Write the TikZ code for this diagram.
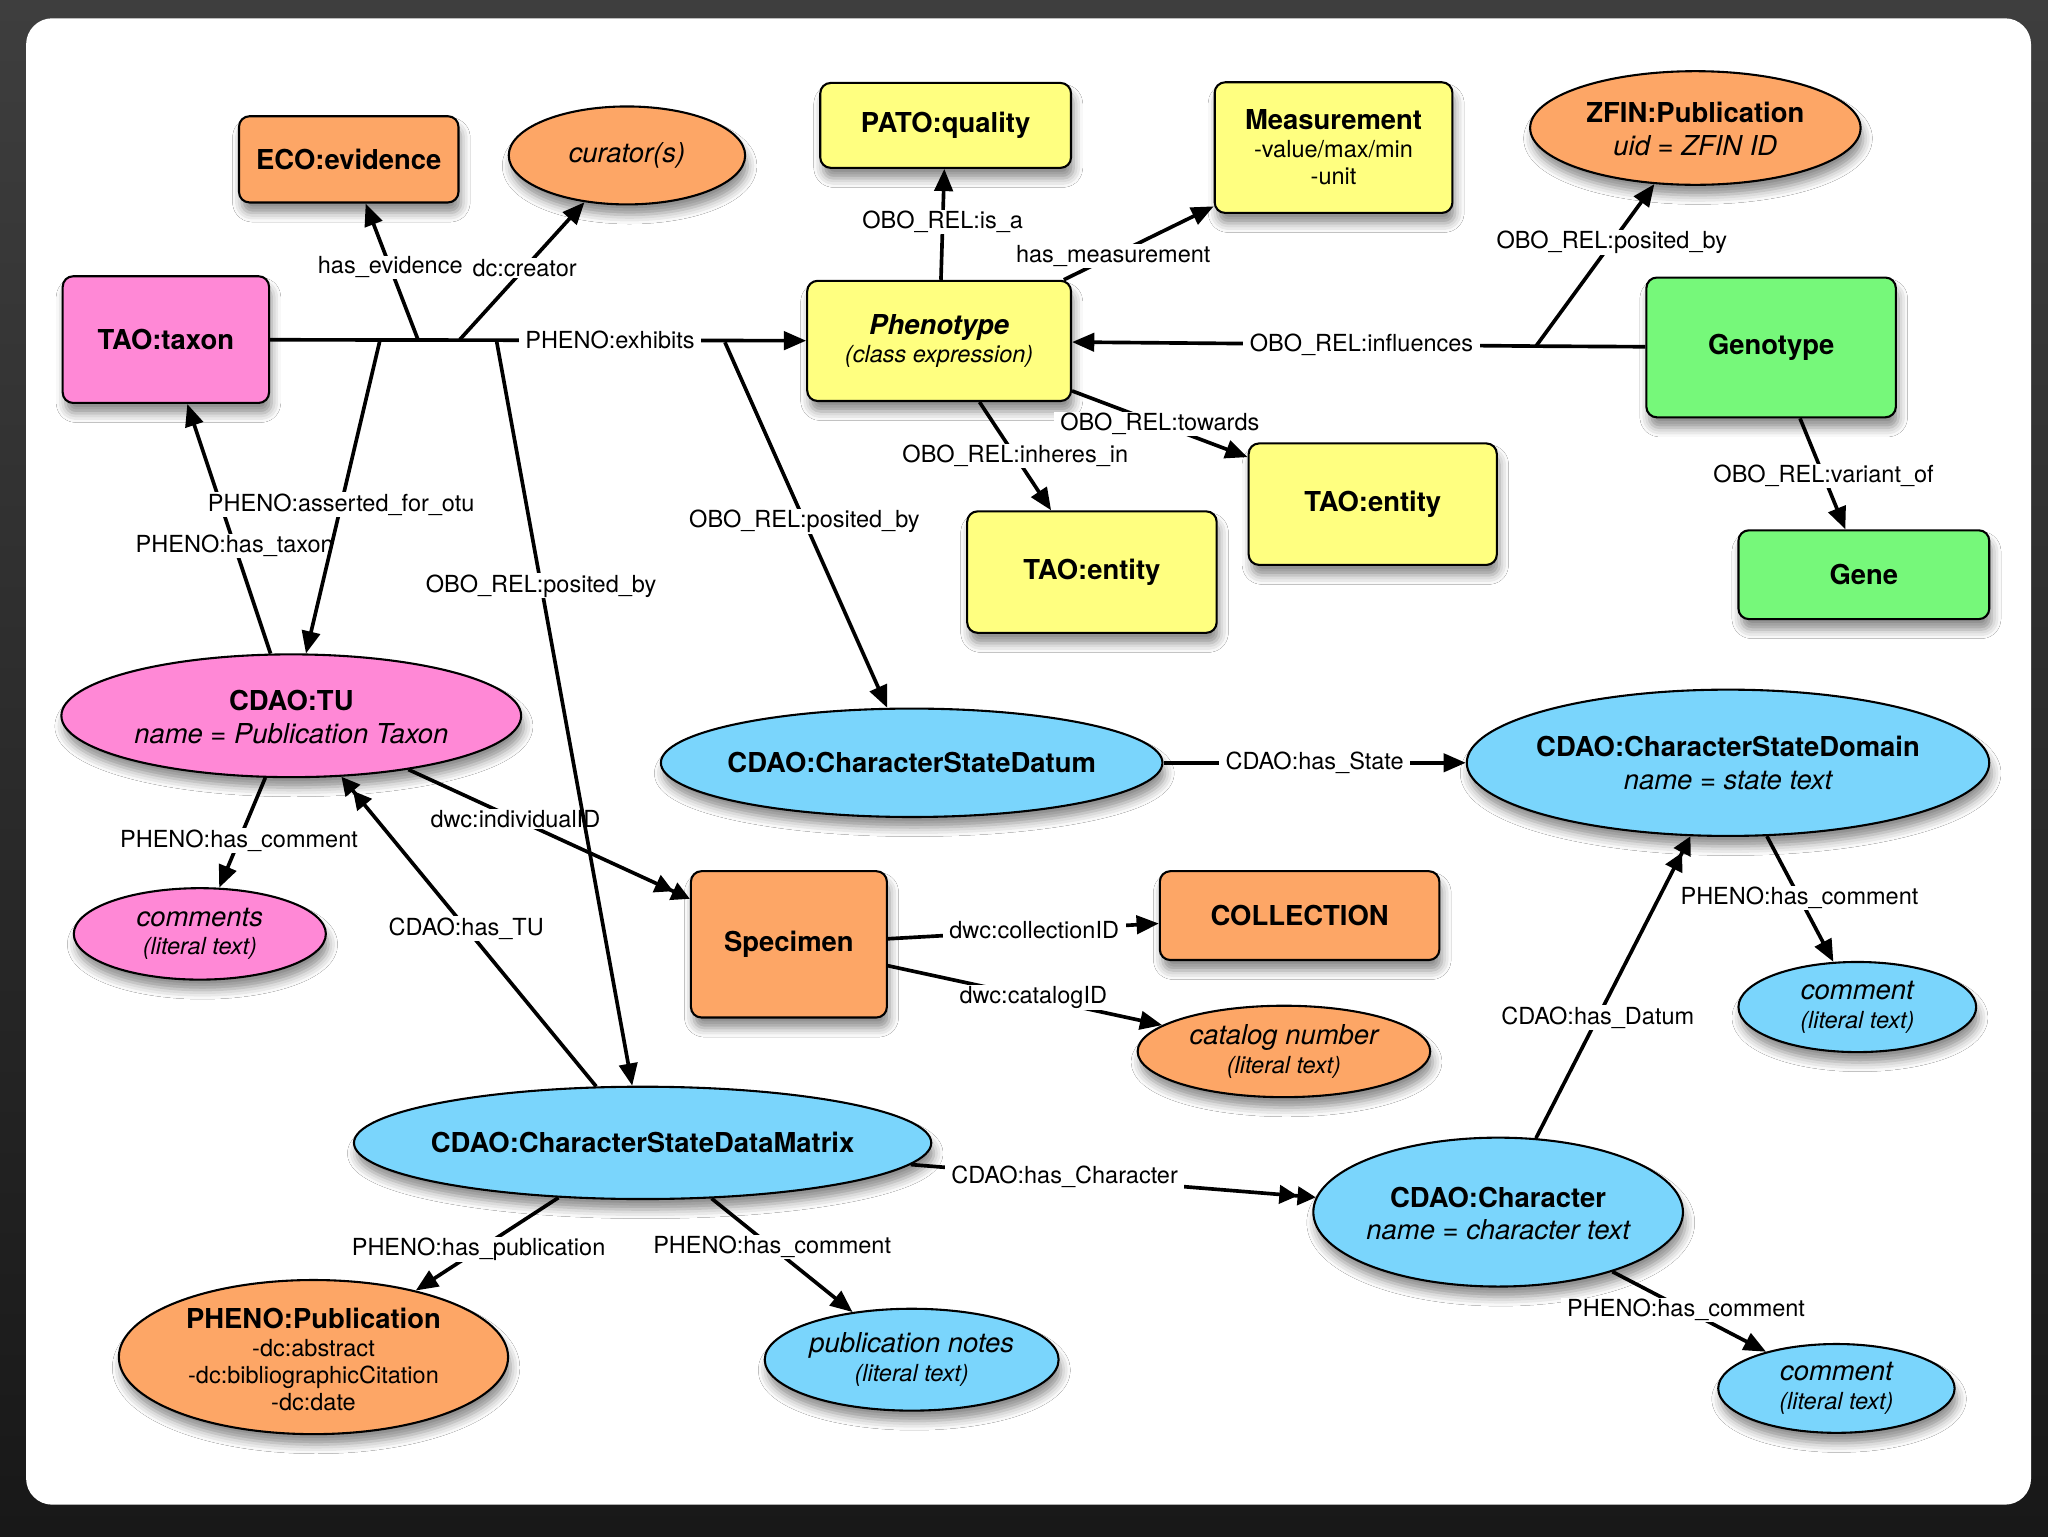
\documentclass[tikz,border=0pt]{standalone}
\usepackage{fontspec}
\setmainfont{TeX Gyre Heros}
\usetikzlibrary{shapes.geometric,arrows.meta,shadows.blur}
\definecolor{corange}{RGB}{253,166,102}
\definecolor{cpink}{RGB}{255,136,214}
\definecolor{cyellow}{RGB}{255,255,128}
\definecolor{cgreen}{RGB}{118,248,122}
\definecolor{cblue}{RGB}{122,213,252}
\definecolor{bgtop}{RGB}{62,62,62}
\definecolor{bgbot}{RGB}{24,24,24}
\newcommand\xtitle{\fontsize{21}{25}\selectfont\bfseries}
\newcommand\xital{\fontsize{21}{25}\selectfont\itshape}
\newcommand\xsmall{\fontsize{18}{21}\selectfont}
\newcommand\xsmit{\fontsize{18}{21}\selectfont\itshape}
\begin{document}
\begin{tikzpicture}[x=1pt,y=-1pt,
  shad/.style={blur shadow={shadow xshift=2pt,shadow yshift=-8pt,shadow blur radius=7pt,shadow opacity=45}},
  box/.style={draw=black,line width=1.6pt,rounded corners=8pt,inner sep=0pt,align=center,shad,font=\xsmall},
  ell/.style={ellipse,draw=black,line width=1.6pt,inner sep=0pt,shad},
  txt/.style={align=center,inner sep=0pt,font=\xsmall},
  txtb/.style={align=center,inner sep=0pt,font=\fontsize{21}{25}\selectfont},
  lbl/.style={fill=white,inner xsep=5pt,inner ysep=1pt,font=\xsmall},
  plain/.style={line width=2.8pt},
  arr/.style={line width=2.8pt,-{Triangle[length=17pt,width=14pt]}},
  darr/.style={line width=2.8pt,-{Triangle[length=14pt,width=14pt]Triangle[length=14pt,width=14pt]}}
]
\useasboundingbox (0,0) rectangle (1568,1176);
\shade[top color=bgtop,bottom color=bgbot] (0,0) rectangle (1568,1176);
\fill[white,rounded corners=20pt] (20,14) rectangle (1555,1152);

% ---------- rectangles ----------
\node[box,fill=corange,minimum width=168pt,minimum height=66pt] (eco) at (267,122) {\xtitle ECO:evidence};
\node[box,fill=cpink,minimum width=158pt,minimum height=97pt] (taxon) at (127,260) {\xtitle TAO:taxon};
\node[box,fill=cyellow,minimum width=192pt,minimum height=65pt] (pato) at (724,96) {\xtitle PATO:quality};
\node[box,fill=cyellow,minimum width=182pt,minimum height=100pt] (meas) at (1021,113) {{\xtitle Measurement}\\-value/max/min\\-unit};
\node[box,fill=cyellow,minimum width=202pt,minimum height=92pt] (pheno) at (719,261) {{\xtitle\itshape Phenotype}\\[1pt]{\xsmit (class expression)}};
\node[box,fill=cgreen,minimum width=191pt,minimum height=107pt] (geno) at (1356,266) {\xtitle Genotype};
\node[box,fill=cyellow,minimum width=190pt,minimum height=93pt] (entR) at (1051,386) {\xtitle TAO:entity};
\node[box,fill=cyellow,minimum width=191pt,minimum height=93pt] (entL) at (836,438) {\xtitle TAO:entity};
\node[box,fill=cgreen,minimum width=192pt,minimum height=68pt] (gene) at (1427,440) {\xtitle Gene};
\node[box,fill=corange,minimum width=150pt,minimum height=112pt] (spec) at (604,723) {\xtitle Specimen};
\node[box,fill=corange,minimum width=214pt,minimum height=68pt] (coll) at (995,701) {\xtitle COLLECTION};

% ---------- ellipses ----------
\node[ell,fill=corange,minimum width=181pt,minimum height=75pt] (cur) at (480,119) {};
\node[txt] (cur-t) at (480,119) {\xital curator(s)};
\node[ell,fill=corange,minimum width=253pt,minimum height=87pt] (zfin) at (1298,98) {};
\node[txtb] (zfin-t) at (1298,99) {{\xtitle ZFIN:Publication}\\{\xital uid = ZFIN ID}};
\node[ell,fill=cpink,minimum width=352pt,minimum height=94pt] (tu) at (223,548) {};
\node[txtb] (tu-t) at (223,549) {{\xtitle CDAO:TU}\\{\xital name = Publication Taxon}};
\node[ell,fill=cblue,minimum width=384pt,minimum height=83pt] (datum) at (698,584) {};
\node[txt] (datum-t) at (698,584) {\xtitle CDAO:CharacterStateDatum};
\node[ell,fill=cblue,minimum width=400pt,minimum height=112pt] (domain) at (1323,584) {};
\node[txtb] (domain-t) at (1323,584) {{\xtitle CDAO:CharacterStateDomain}\\{\xital name = state text}};
\node[ell,fill=cpink,minimum width=193pt,minimum height=70pt] (comments) at (153,715) {};
\node[txt] (comments-t) at (153,715) {{\xital comments}\\[1pt]{\xsmit (literal text)}};
\node[ell,fill=corange,minimum width=224pt,minimum height=70pt] (catalog) at (983,805) {};
\node[txt] (catalog-t) at (983,805) {{\xital catalog number}\\[1pt]{\xsmit (literal text)}};
\node[ell,fill=cblue,minimum width=182pt,minimum height=69pt] (commR) at (1422,771) {};
\node[txt] (commR-t) at (1422,771) {{\xital comment}\\[1pt]{\xsmit (literal text)}};
\node[ell,fill=cblue,minimum width=442pt,minimum height=86pt] (matrix) at (492,875) {};
\node[txt] (matrix-t) at (492,875) {\xtitle CDAO:CharacterStateDataMatrix};
\node[ell,fill=cblue,minimum width=283pt,minimum height=114pt] (char) at (1147,928) {};
\node[txtb] (char-t) at (1147,929) {{\xtitle CDAO:Character}\\{\xital name = character text}};
\node[ell,fill=corange,minimum width=298pt,minimum height=118pt] (ppub) at (240,1039) {};
\node[txt] (ppub-t) at (240,1041) {{\xtitle PHENO:Publication}\\-dc:abstract\\-dc:bibliographicCitation\\-dc:date};
\node[ell,fill=cblue,minimum width=225pt,minimum height=78pt] (pnotes) at (698,1041) {};
\node[txt] (pnotes-t) at (698,1041) {{\xital publication notes}\\[1pt]{\xsmit (literal text)}};
\node[ell,fill=cblue,minimum width=181pt,minimum height=68pt] (commB) at (1406,1063) {};
\node[txt] (commB-t) at (1406,1063) {{\xital comment}\\[1pt]{\xsmit (literal text)}};

% ---------- branch points ----------
\coordinate (bev) at (320,260);
\coordinate (bcr) at (352,260);
\coordinate (bot) at (291,260);
\coordinate (bpl) at (380,260);
\coordinate (bpr) at (555,262);
\coordinate (binf) at (1176,265);

% ---------- connectors ----------
\draw[arr] (taxon) -- node[lbl,pos=.634]{PHENO:exhibits} (pheno);
\draw[arr] (bev) -- node[lbl,pos=.53]{has\_evidence} (eco);
\draw[arr] (bcr) -- node[lbl,pos=.52]{dc:creator} (cur);
\draw[arr] (tu) -- node[lbl,pos=.43]{PHENO:has\_taxon} (taxon);
\draw[arr] (bot) -- node[lbl,pos=.525]{PHENO:asserted\_for\_otu} (tu);
\draw[darr] (tu) -- node[lbl,pos=.38]{dwc:individualID} (spec);
\draw[arr] (bpl) -- node[lbl,pos=.33]{OBO\_REL:posited\_by} (matrix);
\draw[arr] (bpr) -- node[lbl,pos=.49]{OBO\_REL:posited\_by} (datum);
\draw[arr] (pheno) -- node[lbl,pos=.52]{OBO\_REL:is\_a} (pato);
\draw[arr] (pheno) -- node[lbl,pos=.33]{has\_measurement} (meas);
\draw[plain] (geno) -- (binf);
\draw[arr] (binf) -- node[lbl,pos=.376]{OBO\_REL:influences} (pheno);
\draw[arr] (binf) -- node[lbl,pos=.64]{OBO\_REL:posited\_by} (zfin);
\draw[arr] (pheno) -- node[lbl,pos=.5]{OBO\_REL:towards} (entR);
\draw[arr] (pheno) -- node[lbl,pos=.5]{OBO\_REL:inheres\_in} (entL);
\draw[arr] (geno) -- node[lbl,pos=.52]{OBO\_REL:variant\_of} (gene);
\draw[arr] (datum) -- node[lbl,pos=.5]{CDAO:has\_State} (domain);
\draw[arr] (tu) -- node[lbl,pos=.57]{PHENO:has\_comment} (comments);
\draw[darr] (matrix) -- node[lbl,pos=.51]{CDAO:has\_TU} (tu);
\draw[arr] (spec) -- node[lbl,pos=.54]{dwc:collectionID} (coll);
\draw[arr] (spec) -- node[lbl,pos=.53]{dwc:catalogID} (catalog);
\draw[darr] (char) -- node[lbl,pos=.40]{CDAO:has\_Datum} (domain);
\draw[arr] (domain) -- node[lbl,pos=.49]{PHENO:has\_comment} (commR);
\draw[darr] (matrix) -- node[lbl,pos=.38]{CDAO:has\_Character} (char);
\draw[arr] (matrix) -- node[lbl,pos=.56]{PHENO:has\_publication} (ppub);
\draw[arr] (matrix) -- node[lbl,pos=.43]{PHENO:has\_comment} (pnotes);
\draw[arr] (char) -- node[lbl,pos=.48]{PHENO:has\_comment} (commB);
\end{tikzpicture}
\end{document}
